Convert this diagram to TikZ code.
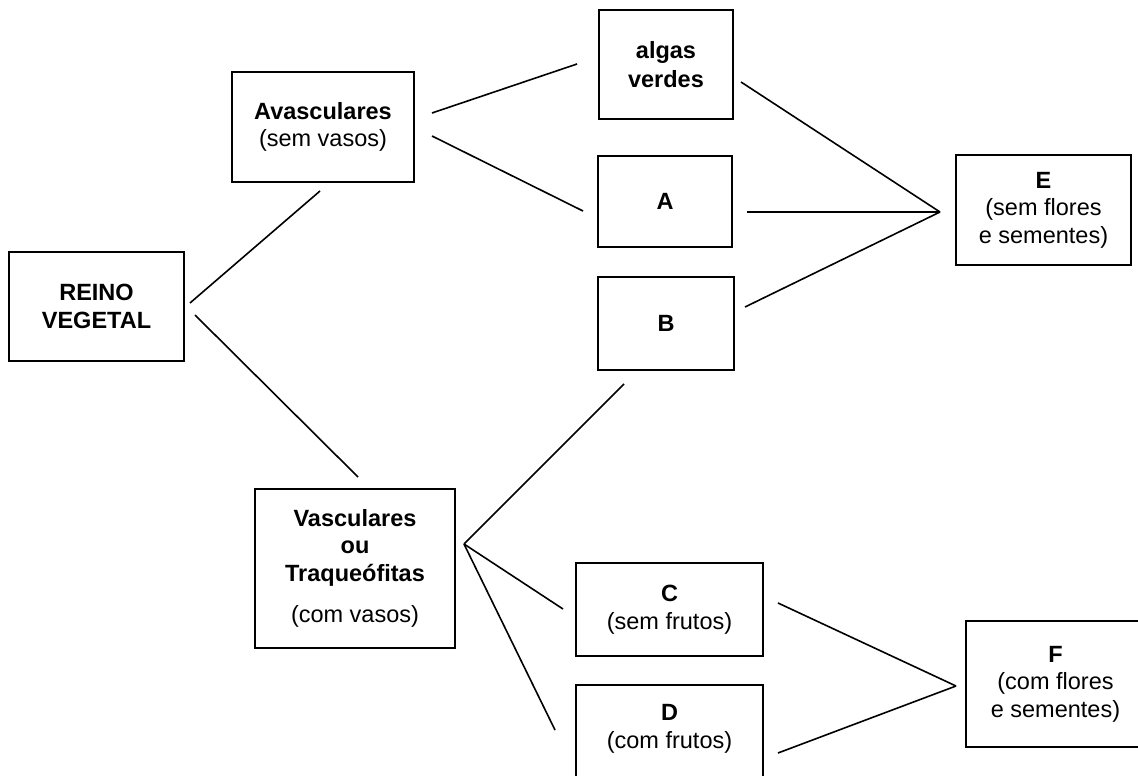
\documentclass[tikz,border=0pt]{standalone}
\usepackage{fontspec}
\setmainfont{Liberation Sans}
\begin{document}
\begin{tikzpicture}[x=1pt,y=-1pt,
  box/.style={draw, line width=1.5pt, inner sep=0pt, align=center,
    font=\fontsize{23.5}{27.5}\selectfont},
  conn/.style={line width=1.6pt}]
\useasboundingbox (0,0) rectangle (1138,776);
\clip (0,0) rectangle (1138,776);
% boxes
\node[box, minimum width=175pt, minimum height=109pt] (reino) at (96.5,306.5) {\textbf{REINO}\\\textbf{VEGETAL}};
\node[box, minimum width=182pt, minimum height=110pt] (avasc) at (323,127) {\textbf{Avasculares}\\(sem vasos)};
\node[box, minimum width=134pt, minimum height=109pt] (algas) at (666,64.5) {\textbf{algas}\\[2pt]\textbf{verdes}};
\node[box, minimum width=134pt, minimum height=91pt] (A) at (665,201.5) {\textbf{A}};
\node[box, minimum width=136pt, minimum height=93pt] (B) at (666,323.5) {\textbf{B}};
\node[box, minimum width=175pt, minimum height=110pt] (E) at (1043.5,210) {\textbf{E}\\(sem flores\\e sementes)};
\node[box, minimum width=200pt, minimum height=159pt] (V) at (355,568.5) {\textbf{Vasculares}\\\textbf{ou}\\\textbf{Traqueófitas}\\[14pt](com vasos)};
\node[box, minimum width=187pt, minimum height=93pt] (C) at (669.5,609.5) {\textbf{C}\\(sem frutos)};
\node[box, minimum width=187pt, minimum height=93pt] (D) at (669.5,731.5) {\textbf{D}\\(com frutos)\\[-26pt]\strut};
\node[box, minimum width=179pt, minimum height=126pt] (F) at (1055.5,684) {\raisebox{-4pt}{\textbf{F}}\\\raisebox{-4pt}{(com flores}\\\raisebox{-4pt}{e sementes)}};
% connector end points
\coordinate (r1) at (190,303);
\coordinate (r2) at (195,315);
\coordinate (av0) at (320,191);
\coordinate (av1) at (432,113);
\coordinate (av2) at (432,136);
\coordinate (al0) at (577,64);
\coordinate (al1) at (741,82);
\coordinate (a0) at (583,211);
\coordinate (a1) at (747,212);
\coordinate (b0) at (624,384);
\coordinate (b1) at (745,307);
\coordinate (eP) at (940,212);
\coordinate (v0) at (358,477);
\coordinate (vP) at (464,544);
\coordinate (c0) at (563,609);
\coordinate (c1) at (778,603);
\coordinate (d0) at (555,730);
\coordinate (d1) at (778,753);
\coordinate (fP) at (956,686);
% connectors
\draw[conn] (r1) -- (av0);
\draw[conn] (r2) -- (v0);
\draw[conn] (av1) -- (al0);
\draw[conn] (av2) -- (a0);
\draw[conn] (al1) -- (eP);
\draw[conn] (a1) -- (eP);
\draw[conn] (b1) -- (eP);
\draw[conn] (vP) -- (b0);
\draw[conn] (vP) -- (c0);
\draw[conn] (vP) -- (d0);
\draw[conn] (c1) -- (fP);
\draw[conn] (d1) -- (fP);
\end{tikzpicture}
\end{document}
